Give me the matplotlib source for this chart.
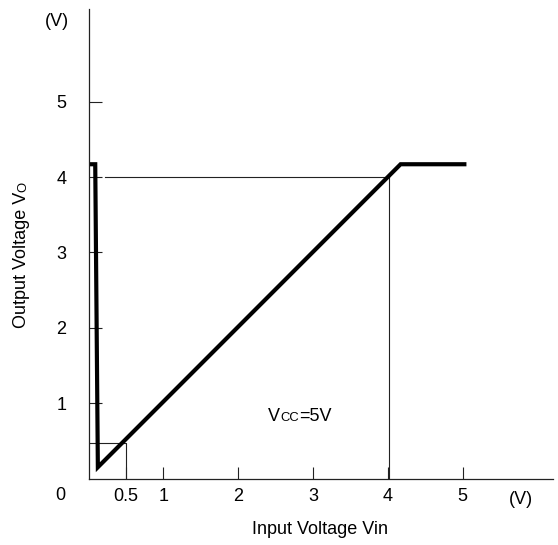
import matplotlib
matplotlib.use("Agg")
import matplotlib.pyplot as plt

plt.rcParams["font.family"] = ["Liberation Sans", "DejaVu Sans"]

# transfer curve (Vin, Vout)
VIN = [0.02, 0.09, 0.125, 4.17, 5.05]
VOUT = [4.17, 4.17, 0.15, 4.17, 4.17]

X_TICKS = [0.5, 1, 2, 3, 4, 5]
X_LABELS = ["0.5", "1", "2", "3", "4", "5"]
Y_TICKS = [1, 2, 3, 4, 5]
Y_LABELS = ["1", "2", "3", "4", "5"]

# guide lines: (vin, vout)
GUIDE_HI = (4.02, 4.0)
GUIDE_LO = (0.5, 0.47)

W, H = 558, 545
FS = 13
GREY = "#222222"

fig = plt.figure(figsize=(W / 100, H / 100), dpi=100)
ax = fig.add_axes([88.5 / W, 66.5 / H, 464 / W, 469.5 / H])
ax.set_xlim(0, 6.2)
ax.set_ylim(0, 6.23)
for s in ("top", "right"):
    ax.spines[s].set_visible(False)
for s in ("left", "bottom"):
    ax.spines[s].set_color(GREY)
    ax.spines[s].set_linewidth(0.9)

ax.plot([0.22, GUIDE_HI[0]], [GUIDE_HI[1], GUIDE_HI[1]], color=GREY, lw=0.8)
ax.plot([GUIDE_HI[0], GUIDE_HI[0]], [GUIDE_HI[1], 0], color=GREY, lw=0.8)
ax.plot([0, GUIDE_LO[0], GUIDE_LO[0]], [GUIDE_LO[1], GUIDE_LO[1], 0], color=GREY, lw=0.8)

ax.plot(VIN, VOUT, color="black", lw=3, solid_joinstyle="miter", solid_capstyle="butt")

ax.set_xticks(X_TICKS, X_LABELS)
ax.set_yticks(Y_TICKS, Y_LABELS)
ax.tick_params(direction="in", length=9, width=0.8, color=GREY, labelsize=FS)
ax.tick_params(axis="x", pad=7)
ax.tick_params(axis="y", pad=16)
ax.annotate("0", (0, 0), xytext=(-28.5, -17), textcoords="offset pixels",
            ha="center", va="center", fontsize=FS)

fig.text(57 / W, 1 - 21 / H, "(V)", ha="center", va="center", fontsize=FS)
fig.text(521 / W, 1 - 499 / H, "(V)", ha="center", va="center", fontsize=FS)
fig.text(320 / W, 1 - 530 / H, "Input Voltage Vin", ha="center", va="center", fontsize=FS)

renderer = fig.canvas.get_renderer()

# y label with small "O"
yl = fig.text(26 / W, 1 - 328 / H, "Output Voltage V", rotation=90,
              rotation_mode="anchor", ha="left", va="baseline", fontsize=FS)
bb = yl.get_window_extent(renderer)
fig.text(26 / W, bb.y1 / H, "O", rotation=90, rotation_mode="anchor",
         ha="left", va="baseline", fontsize=FS * 0.72)

# Vcc=5V with small caps
x0, base = 268, 1 - 421 / H
t = fig.text(x0 / W, base, "V", ha="left", va="baseline", fontsize=FS)
x1 = t.get_window_extent(renderer).x1
t = fig.text(x1 / W, base, "CC", ha="left", va="baseline", fontsize=FS * 0.72)
x1 = t.get_window_extent(renderer).x1
fig.text(x1 / W, base, "=5V", ha="left", va="baseline", fontsize=FS)

fig.savefig("out.png", dpi=100)
